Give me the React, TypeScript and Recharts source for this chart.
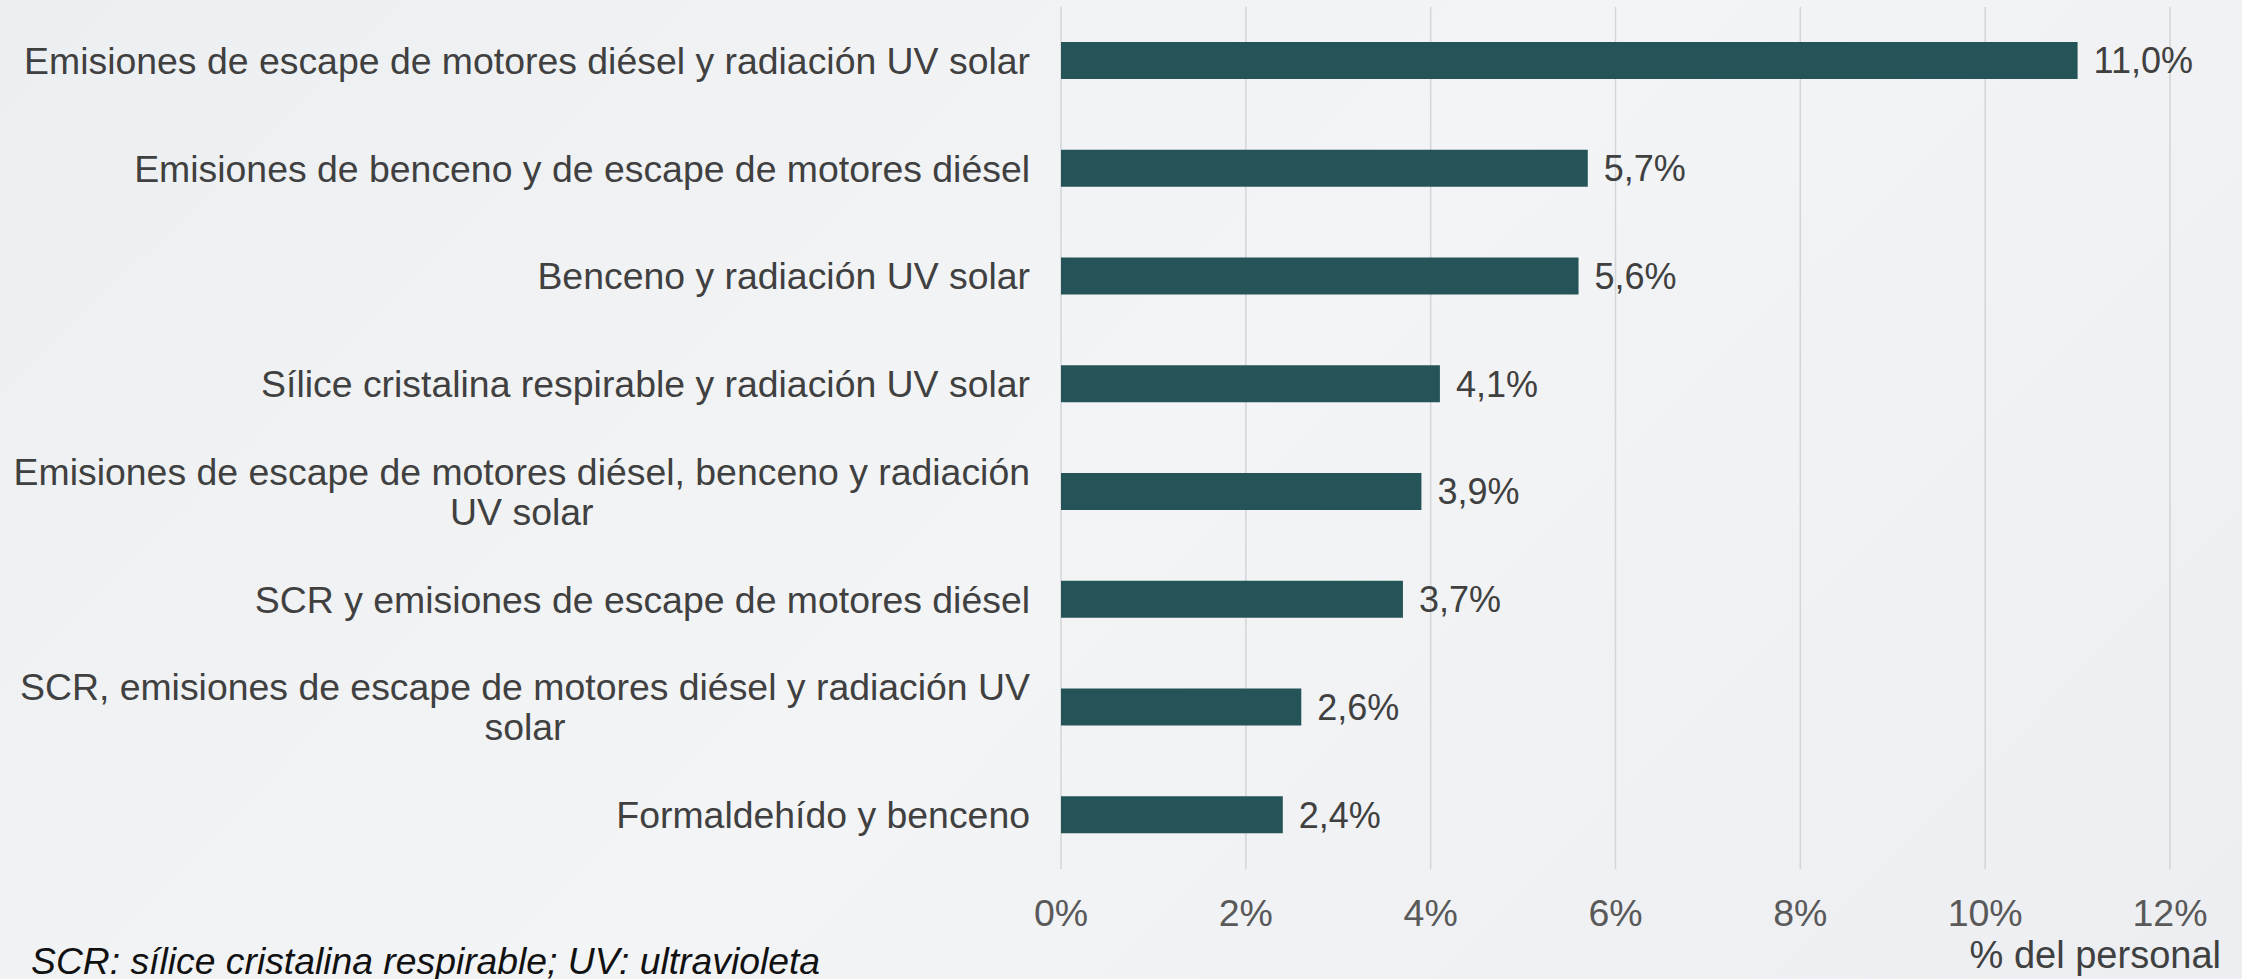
import React from 'react';
import { BarChart, Bar, XAxis, YAxis, CartesianGrid, LabelList } from 'recharts';

// Categories (line breaks where the original wraps)
const categories = [
  'Emisiones de escape de motores diésel y radiación UV solar',
  'Emisiones de benceno y de escape de motores diésel',
  'Benceno y radiación UV solar',
  'Sílice cristalina respirable y radiación UV solar',
  'Emisiones de escape de motores diésel, benceno y radiación\nUV solar',
  'SCR y emisiones de escape de motores diésel',
  'SCR, emisiones de escape de motores diésel y radiación UV\nsolar',
  'Formaldehído y benceno',
];
const values = [11.0, 5.7, 5.6, 4.1, 3.9, 3.7, 2.6, 2.4];
const xTicks = [0, 2, 4, 6, 8, 10, 12];

const FONT = '"Liberation Sans", Arial, sans-serif';
const CAT_SIZE = 37.4;
const TICK_SIZE = 37.5;
const VALUE_SIZE = 36;

const data = categories.map((name, i) => ({ name, value: values[i] }));

let ctx: CanvasRenderingContext2D | null = null;
const measure = (s: string) => {
  if (!ctx) ctx = document.createElement('canvas').getContext('2d');
  if (!ctx) return s.length * CAT_SIZE * 0.5;
  ctx.font = `${CAT_SIZE}px ${FONT}`;
  return ctx.measureText(s).width;
};

const CategoryTick = (props: any) => {
  const { x, y, payload } = props;
  const lines: string[] = String(payload.value).split('\n');
  if (lines.length === 1) {
    return (
      <text x={x} y={y} dy="0.35em" textAnchor="end" fill="#404040" fontSize={CAT_SIZE} fontFamily={FONT}>
        {lines[0]}
      </text>
    );
  }
  // wrapped label: block right-aligned, lines centred inside it
  const w = Math.max(...lines.map(measure));
  const cx = x - w / 2;
  const lh = 40;
  const top = y - ((lines.length - 1) * lh) / 2;
  return (
    <text textAnchor="middle" fill="#404040" fontSize={CAT_SIZE} fontFamily={FONT}>
      {lines.map((l, i) => (
        <tspan key={i} x={cx} y={top + i * lh} dy="0.35em">{l}</tspan>
      ))}
    </text>
  );
};

const PercentTick = (props: any) => {
  const { x, y, payload } = props;
  return (
    <text x={x} y={y} dy="0.35em" textAnchor="middle" fill="#595959" fontSize={TICK_SIZE} fontFamily={FONT}>
      {payload.value}%
    </text>
  );
};

const fmt = (v: any) => Number(v).toFixed(1).replace('.', ',') + '%';

export default function App() {
  return (
    <div
      style={{
        position: 'absolute',
        left: 0,
        top: 0,
        width: 2242,
        height: 979,
        overflow: 'hidden',
        background: 'linear-gradient(135deg, #eceff1 0%, #f3f4f6 50%, #eceef1 100%)',
        fontFamily: FONT,
      }}
    >
      <BarChart
        width={2242}
        height={979}
        data={data}
        layout="vertical"
        margin={{ top: 7, right: 72, bottom: 50, left: 0 }}
      >
        <CartesianGrid horizontal={false} stroke="#d3d5d8" strokeWidth={1.5} />
        <XAxis
          type="number"
          domain={[0, 12]}
          ticks={xTicks}
          axisLine={false}
          tickLine={false}
          height={60}
          tickMargin={38}
          tick={<PercentTick />}
          interval={0}
        />
        <YAxis
          type="category"
          dataKey="name"
          width={1061}
          axisLine={false}
          tickLine={false}
          tickMargin={25}
          tick={<CategoryTick />}
          interval={0}
        />
        <Bar dataKey="value" fill="#245457" barSize={37} isAnimationActive={false}>
          <LabelList
            dataKey="value"
            position="right"
            offset={16}
            formatter={fmt}
            fill="#404040"
            fontSize={VALUE_SIZE}
            fontFamily={FONT}
          />
        </Bar>
      </BarChart>
      <div
        style={{
          position: 'absolute',
          right: 21,
          top: 935,
          fontSize: 38,
          color: '#404040',
          lineHeight: '40px',
          whiteSpace: 'nowrap',
        }}
      >
        % del personal
      </div>
      <div
        style={{
          position: 'absolute',
          left: 31,
          top: 940,
          fontSize: 37.3,
          fontStyle: 'italic',
          color: '#111',
          lineHeight: '42px',
          whiteSpace: 'nowrap',
        }}
      >
        SCR: sílice cristalina respirable; UV: ultravioleta
      </div>
    </div>
  );
}
